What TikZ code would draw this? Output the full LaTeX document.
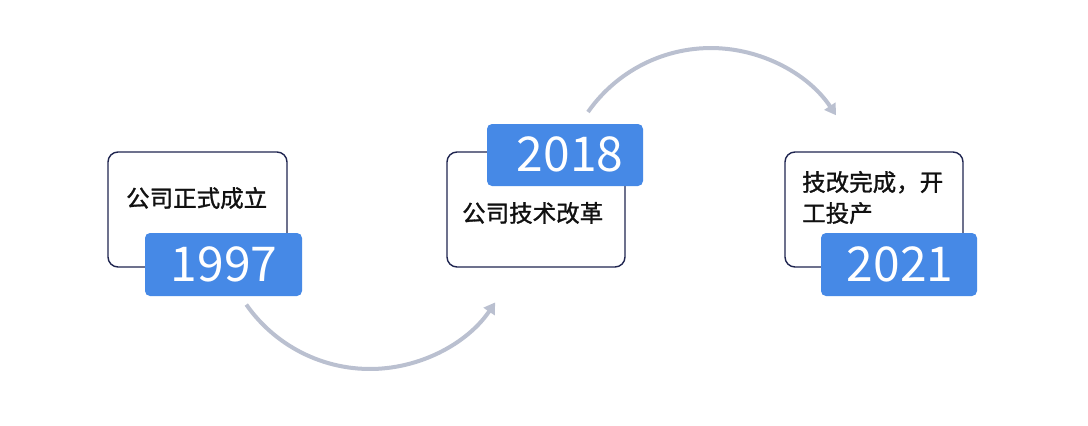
\documentclass[tikz,border=0pt]{standalone}
\usepackage{fontspec}
\setmainfont{Noto Sans CJK SC}
\newfontfamily\cardfont{Noto Sans CJK SC}[FakeBold=1.2]
\usetikzlibrary{arrows.meta}
\definecolor{tagblue}{HTML}{4689E6}
\definecolor{boxline}{HTML}{1F2550}
\definecolor{arcgray}{HTML}{BAC0D0}
\definecolor{txt}{HTML}{111111}
\tikzset{
  card/.style={draw=boxline, line width=1.4pt, fill=white, rounded corners=10pt},
  tag/.style={fill=tagblue, rounded corners=5pt},
  yeartext/.style={text=white, font=\fontsize{48}{50}\selectfont, inner sep=0pt},
  cardtext/.style={text=txt, font=\cardfont\fontsize{23.5}{31}\selectfont, inner sep=0pt, anchor=west, align=left},
  flow/.style={draw=arcgray, line width=4pt, -{Triangle[length=11pt,width=13pt]}}
}
\begin{document}
\begin{tikzpicture}[x=1pt,y=-1pt]
\useasboundingbox[fill=white] (0,0) rectangle (1088,426);
% cards
\draw[card] (108,152) rectangle (287,267);
\draw[card] (447,152) rectangle (625,267);
\draw[card] (785,152) rectangle (963,267);
% tags
\fill[tag] (145,233) rectangle (302,296);
\fill[tag] (487,124) rectangle (643,186);
\fill[tag] (821,233) rectangle (977,296);
% years
\node[yeartext] (y1) at (224,264) {1997};
\node[yeartext] (y2) at (570,154) {2018};
\node[yeartext] (y3) at (900,264) {2021};
% texts
\node[cardtext] (t1) at (126,198) {公司正式成立};
\node[cardtext] (t2) at (462,213) {公司技术改革};
\node[cardtext] (t3) at (802,197.5) {技改完成，开\\工投产};
% arcs
\coordinate (s1) at (246.3,304.6);
\coordinate (s2) at (588,112);
\draw[flow] (s1) arc[start angle=145, end angle=34, radius=151];
\draw[flow] (s2) arc[start angle=215, end angle=326.5, radius=150];
\end{tikzpicture}
\end{document}
